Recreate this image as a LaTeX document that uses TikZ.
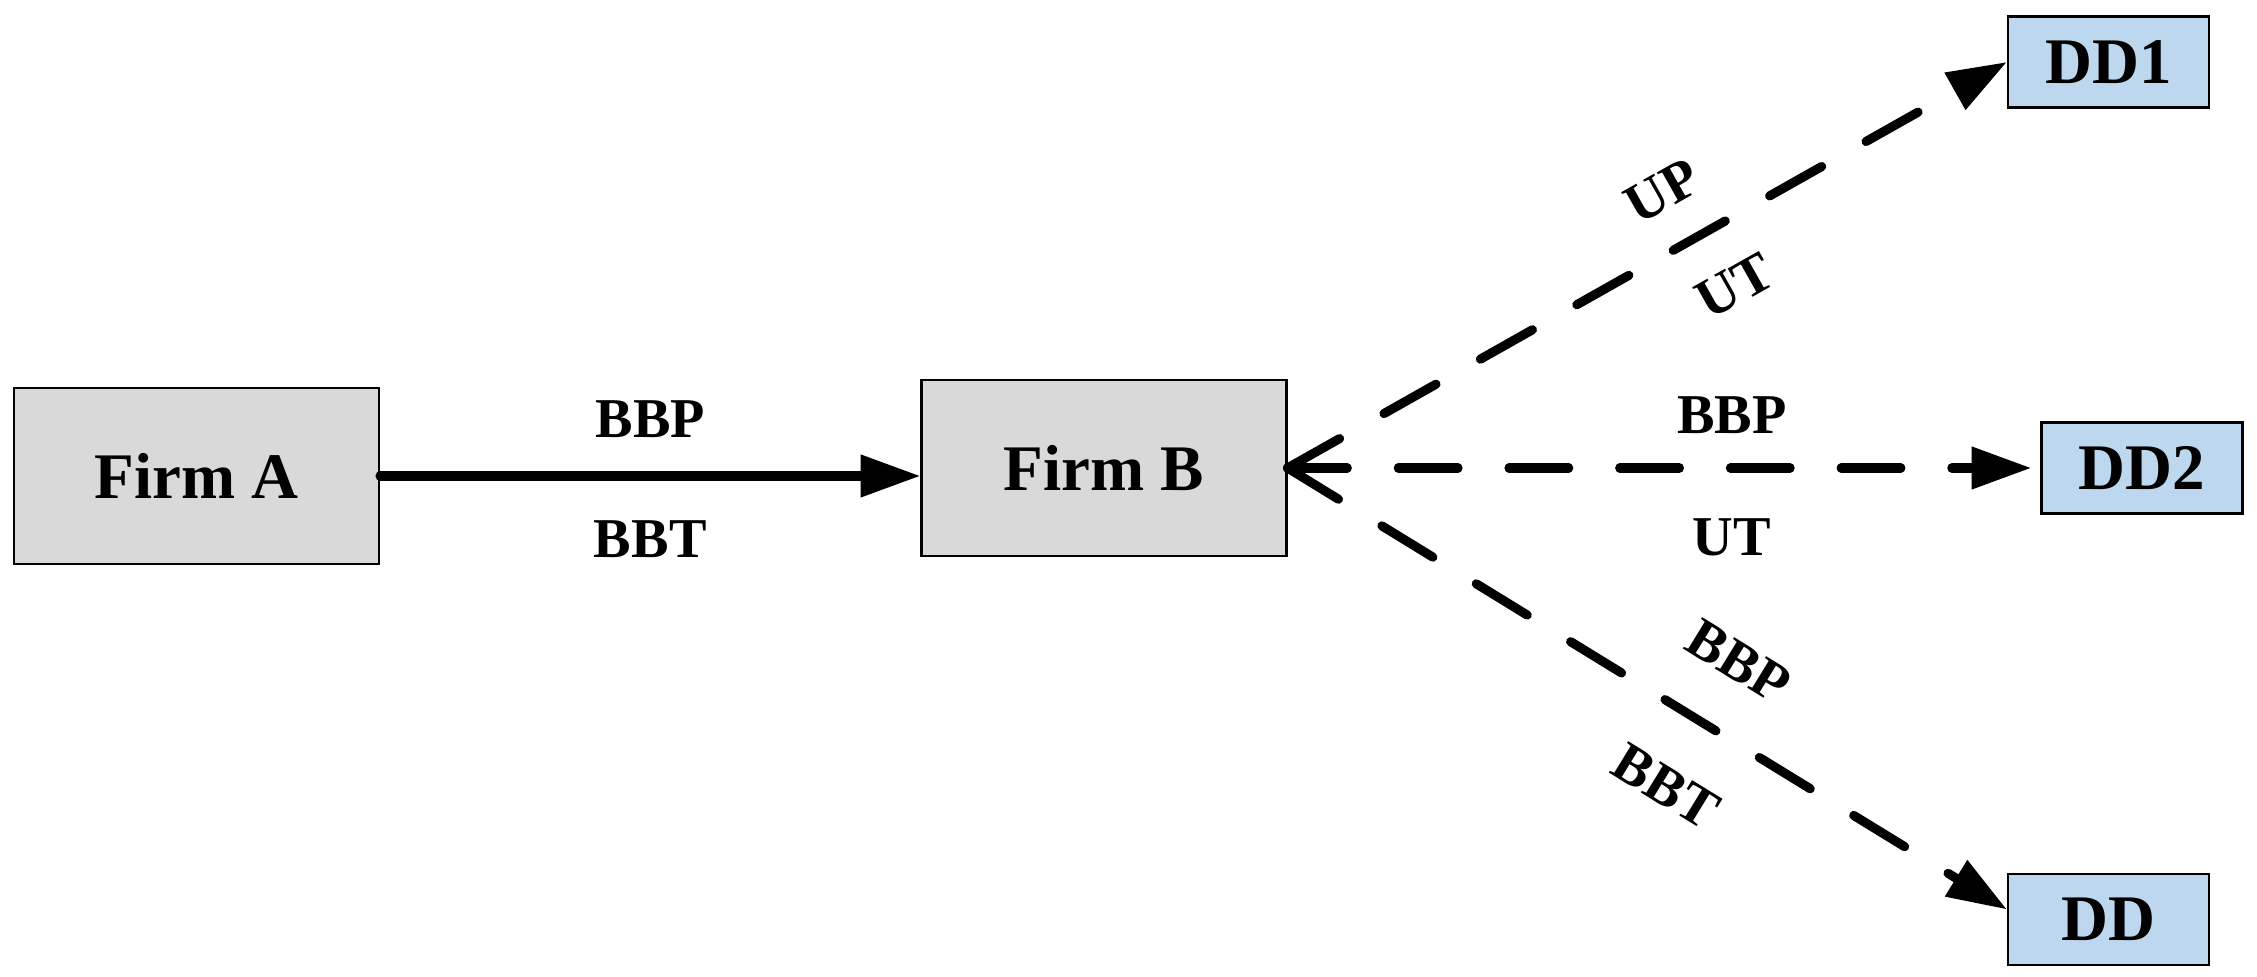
\documentclass[tikz,border=0pt]{standalone}
\usepackage{fontspec}
\setmainfont{Liberation Serif}
\usetikzlibrary{arrows.meta}
\definecolor{FirmGray}{RGB}{217,217,217}
\definecolor{DealerBlue}{RGB}{189,215,238}

\begin{document}
\begin{tikzpicture} [>={Triangle[length=17pt,width=11.5pt]}, black, text=black,
	   every node/.style={font=\bfseries},
	   firmgroup/.style 2 args = {rectangle, minimum width=#1, minimum height=#2,
	                              draw=black, line width=0.6pt, fill=FirmGray,
	                              font=\fontsize{18.5}{22}\selectfont\bfseries},
	   dealergroup/.style 2 args = {rectangle, minimum width=#1, minimum height=#2,
	                              draw=black, line width=0.6pt, fill=DealerBlue,
	                              font=\fontsize{18.5}{22}\selectfont\bfseries},
	   flow/.style = {->, line width=2.6pt, line cap=round},
	   dashflow/.style = {flow, dash pattern=on 17pt off 14.5pt},
	   flowlabel/.style = {font=\fontsize{16}{19}\selectfont\bfseries,
	                       inner sep=0pt, text height=0.37cm, text depth=0pt}]
	\useasboundingbox (0,0) rectangle (22.57,9.77);

	%% Firms
	\node [firmgroup={3.65cm}{1.76cm}] (FirmA) at (1.965,5.01) {Firm A};
	\node [firmgroup={3.65cm}{1.76cm}] (FirmB) at (11.04,5.09) {Firm B};

	%% Downstream dealers
	\node [dealergroup={2.01cm}{0.91cm}] (DD1) at (21.085,9.15) {DD1};
	\node [dealergroup={2.01cm}{0.91cm}] (DD2) at (21.42,5.09) {DD2};
	\node [dealergroup={2.01cm}{0.91cm}] (DD) at (21.085,0.575) {DD};

	%% Paths
	\draw[flow] (FirmA.east) -- (FirmA.east -| FirmB.west)
	          node[flowlabel,above=0.34cm,midway] {BBP}
	          node[flowlabel,below=0.40cm,midway] {BBT};
	\draw[dashflow] (FirmB.east) -- (DD1.west)
	          node[flowlabel,sloped,above=0.34cm,pos=0.56] {UP}
	          node[flowlabel,sloped,below=0.38cm,pos=0.58] {UT};
	\draw[dashflow,shorten >=0.09cm] (FirmB.east) -- (DD2.west)
	          node[flowlabel,above=0.30cm,pos=0.59] {BBP}
	          node[flowlabel,below=0.46cm,pos=0.59] {UT};
	\draw[dashflow] (FirmB.east) -- ([yshift=0.1cm]DD.west)
	          node[flowlabel,sloped,above=0.48cm,pos=0.575] {BBP}
	          node[flowlabel,sloped,below=0.50cm,pos=0.58] {BBT};
\end{tikzpicture}
\end{document}
